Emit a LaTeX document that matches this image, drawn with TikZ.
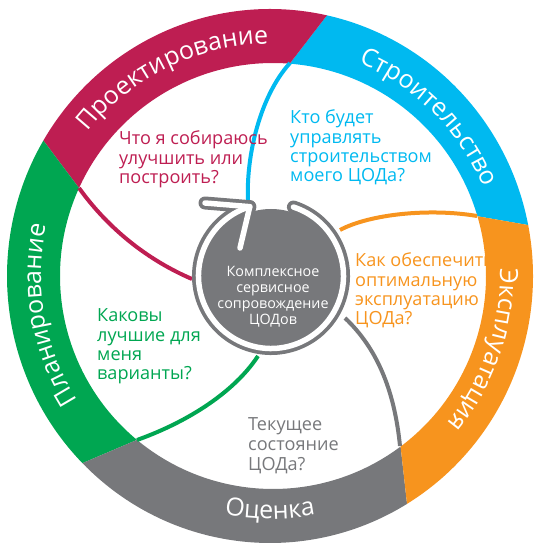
\documentclass[tikz,border=0pt]{standalone}
\usepackage{fontspec}
\setmainfont{Open Sans}
\usetikzlibrary{decorations.text}
\definecolor{cMag}{HTML}{BE1E52}
\definecolor{cCyan}{HTML}{00B9F0}
\definecolor{cOrange}{HTML}{F7941E}
\definecolor{cGray}{HTML}{77787B}
\definecolor{cGreen}{HTML}{00A651}
\newcommand\ringsector[5]{%
\fill[#1] ({3+213*cos(#4)},{213*sin(#4)}) -- ({263*cos(#2)},{267*sin(#2)})
  arc[start angle=#2, end angle=#3, x radius=263, y radius=267]
  -- ({3+213*cos(#5)},{213*sin(#5)}) arc[start angle=#5, end angle=#4, radius=213] -- cycle;}
\tikzset{
  question/.style={inner sep=0pt, align=left, anchor=base west,
    font=\fontsize{18.1}{19.2}\selectfont},
  spoke/.style={line width=4pt},
  ringlabel/.style={decorate, decoration={text along path, text align=center,
    text={#1}}},
}
\begin{document}
\begin{tikzpicture}[x=1pt,y=1pt]
\useasboundingbox (-270,-269) rectangle (264,276);
% ring
\ringsector{cCyan}{11}{77.5}{16.3}{85.5}
\ringsector{cMag}{77.5}{149.5}{85.5}{155.6}
\ringsector{cGreen}{149.5}{224.5}{155.6}{230.3}
\ringsector{cGray}{224.5}{301.4}{230.3}{306.8}
\ringsector{cOrange}{-58.6}{11}{-53.2}{16.3}
% ring labels
\path[ringlabel={|\color{white}\fontsize{25}{25}\selectfont|Проектирование}] (160:232) arc[start angle=160, end angle=72, radius=232];
\path[ringlabel={|\color{white}\fontsize{25}{25}\selectfont|Строительство}] (90:231) arc[start angle=90, end angle=0, radius=231];
\path[ringlabel={|\color{white}\fontsize{25}{25}\selectfont|Эксплуатация}] (25:230) arc[start angle=25, end angle=-63, radius=230];
\path[ringlabel={|\color{white}\fontsize{25}{25}\selectfont|Планирование}] (235:229) arc[start angle=235, end angle=145, radius=229];
\path[ringlabel={|\color{white}\fontsize{25}{25}\selectfont|Оценка}] (-130:243) arc[start angle=-130, end angle=-50, radius=243];
% spokes
\draw[spoke, cCyan] (20,213) .. controls (-10,180) and (-24,120) .. (-22,76);
\draw[spoke, cOrange] (207,60) .. controls (160,68) and (100,62) .. (70,46);
\draw[spoke, cGray] (130,-170) .. controls (125,-120) and (110,-75) .. (75,-42);
\draw[spoke, cGreen] (-133,-164) .. controls (-80,-145) and (-35,-115) .. (-12,-80);
\draw[spoke, cMag] (-191,88) .. controls (-160,45) and (-120,15) .. (-78,-3);
% center
\fill[cGray] (1,0) circle[radius=67];
\coordinate (tip) at ({1+72.5*cos(107)},{72.5*sin(107)});
\coordinate (armA) at (-65,73);
\coordinate (armB) at (-30,28);
\coordinate (tail) at ({1+72.5*cos(72)},{72.5*sin(72)});
\foreach \w/\c in {13pt/cGray, 5.5pt/white}{
  \draw[line width=\w, \c, line cap=round, line join=round]
    (tail) arc[start angle=72, end angle=-253, radius=72.5];
  \draw[line width=\w, \c, line cap=round, line join=round] (armA) -- (tip) -- (armB);
}
\node[inner sep=0pt, align=center, anchor=base, text=white,
  font=\fontsize{14.3}{16.3}\selectfont] (core) at (3,-49)
  {Комплексное\\сервисное\\сопровождение\\ЦОДов};
% questions
\node[question, text=cMag] (qdesign) at (-151,92.6) {Что я собираюсь\\улучшить или\\построить?};
\node[question, text=cCyan] (qbuild) at (20,94.4) {Кто будет\\управлять\\строительством\\моего ЦОДа?};
\node[question, text=cOrange] (qoper) at (85,-48.6) {Как обеспечить\\оптимальную\\эксплуатацию\\ЦОДа?};
\node[question, text=cGreen] (qplan) at (-173,-103.6) {Каковы\\лучшие для\\меня\\варианты?};
\node[question, text=cGray, font=\fontsize{18.1}{20}\selectfont] (qeval) at (-22,-194) {Текущее\\состояние\\ЦОДа?};
\end{tikzpicture}
\end{document}
